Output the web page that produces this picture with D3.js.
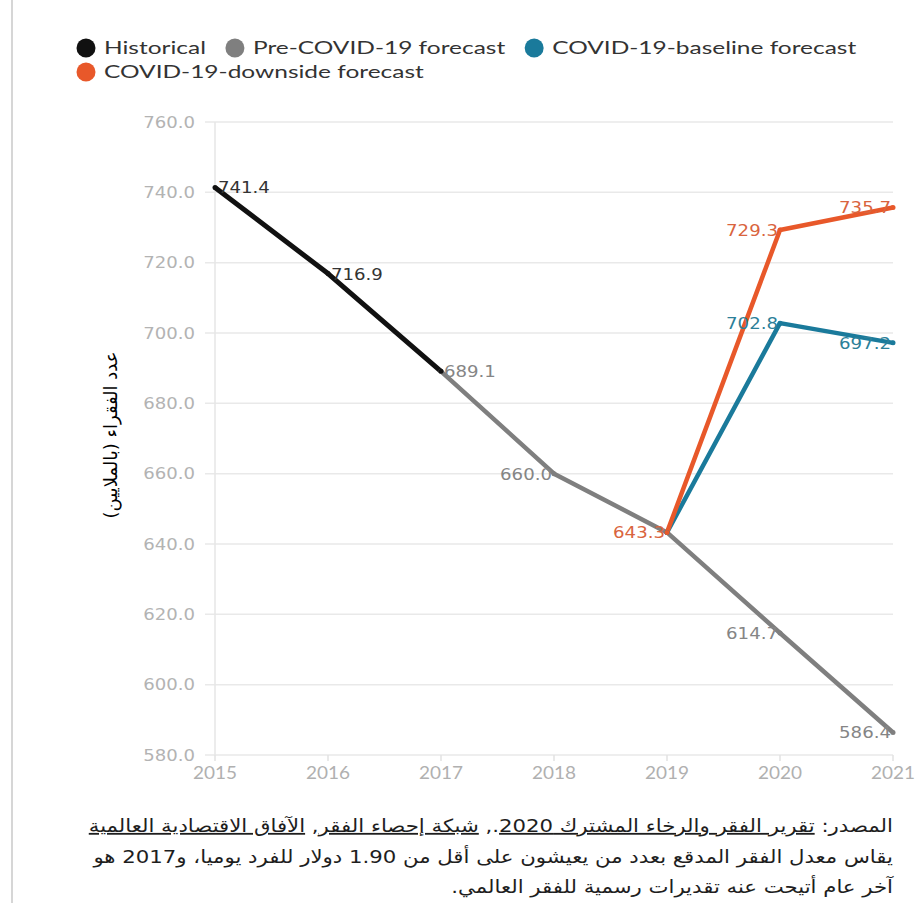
<!DOCTYPE html>
<html>
<head>
<meta charset="utf-8">
<script src="https://cdn.jsdelivr.net/npm/d3@7"></script>
<style>
    body { margin: 0; background: #fff; }
    svg { display: block; }
</style>
</head>
<body>
<div id="chart"></div>
<script>
// data (millions of people in extreme poverty)
const years = [2015, 2016, 2017, 2018, 2019, 2020, 2021];
const yTicks = [580, 600, 620, 640, 660, 680, 700, 720, 740, 760];
const seriesNames = ['Historical', 'Pre-COVID-19 forecast', 'COVID-19-baseline forecast', 'COVID-19-downside forecast'];
const historicalYears = [2015, 2016, 2017];
const historical = [741.4, 716.9, 689.1];
const preCovidYears = [2017, 2018, 2019, 2020, 2021];
const preCovid = [689.1, 660.0, 643.3, 614.7, 586.4];
const baselineYears = [2019, 2020, 2021];
const baseline = [643.3, 702.8, 697.2];
const downsideYears = [2019, 2020, 2021];
const downside = [643.3, 729.3, 735.7];
const yTitle = 'عدد الفقراء (بالملايين)';

class PovertyChart {
    constructor(width, height, selector) {
        this._width = width;
        this._height = height;
        this._selector = selector;
        this._margin = { top: 122, right: 25, bottom: 148, left: 215 };
        this._colors = ['#111111', '#7f7f7f', '#1a7a9b', '#e8582a'];
        this._labelColors = ['#333333', '#858585', '#2c7f99', '#d9643e'];
    }

    // text stretched horizontally, the reference screenshot is wide
    stretchText(g, x, y, sx) {
        return g.append('g')
            .attr('transform', `translate(${x},${y}) scale(${sx},1)`)
            .append('text');
    }

    render() {
        var that = this;
        this._svg = d3.select(that._selector)
            .append('svg')
            .attr('width', that._width)
            .attr('height', that._height);

        // left border of the page
        this._svg.append('line')
            .attr('x1', 12).attr('x2', 12)
            .attr('y1', 0).attr('y2', that._height)
            .attr('stroke', '#c8c8c8').attr('stroke-width', 1.5);

        this._x = d3.scaleLinear()
            .domain(d3.extent(years))
            .range([that._margin.left, that._width - that._margin.right]);
        this._y = d3.scaleLinear()
            .domain([580, 760])
            .range([that._height - that._margin.bottom, that._margin.top]);

        this.drawAxes();
        this.drawLines();
        this.drawLegend();
        this.drawFooter();
    }

    drawAxes() {
        var that = this;
        var x0 = this._x.range()[0], x1 = this._x.range()[1];
        var grid = this._svg.append('g');
        grid.selectAll('line').data(yTicks)
            .join('line')
            .attr('x1', x0 - 10).attr('x2', x1)
            .attr('y1', d => that._y(d)).attr('y2', d => that._y(d))
            .attr('stroke', '#e9e9e9').attr('stroke-width', 1.5);
        grid.append('line')
            .attr('x1', x0).attr('x2', x0)
            .attr('y1', that._y(760)).attr('y2', that._y(580))
            .attr('stroke', '#e6e6e6').attr('stroke-width', 1.5);
        grid.selectAll('.xtick').data(years)
            .join('line').attr('class', 'xtick')
            .attr('x1', d => that._x(d)).attr('x2', d => that._x(d))
            .attr('y1', that._y(580)).attr('y2', that._y(580) + 6)
            .attr('stroke', '#e2e2e2').attr('stroke-width', 1.5);

        var fmt = d3.format('.1f');
        yTicks.forEach(function (t) {
            that.stretchText(grid, x0 - 20, that._y(t), 1.13)
                .attr('text-anchor', 'end')
                .attr('dy', '0.36em')
                .attr('font-family', 'DejaVu Sans')
                .attr('font-size', 16)
                .attr('fill', '#b3b3b3')
                .text(fmt(t));
        });
        years.forEach(function (yr) {
            that.stretchText(grid, that._x(yr), that._y(580) + 24, 1.15)
                .attr('text-anchor', 'middle')
                .attr('font-family', 'Lato')
                .attr('font-size', 16.5)
                .attr('fill', '#b0b0b0')
                .text(yr);
        });

        this._svg.append('text')
            .attr('transform', `translate(111,435) rotate(-90)`)
            .attr('text-anchor', 'middle')
            .attr('dy', '0.35em')
            .attr('font-family', 'DejaVu Sans')
            .attr('font-size', 18)
            .attr('fill', '#000')
            .text(yTitle);
    }

    drawLines() {
        var that = this;
        var series = [
            { name: seriesNames[1], years: preCovidYears, values: preCovid, c: 1 },
            { name: seriesNames[0], years: historicalYears, values: historical, c: 0 },
            { name: seriesNames[2], years: baselineYears, values: baseline, c: 2 },
            { name: seriesNames[3], years: downsideYears, values: downside, c: 3 }
        ];
        series.forEach(s => { s.points = s.values.map((v, i) => [s.years[i], v]); });

        var line = d3.line()
            .x(d => that._x(d[0]))
            .y(d => that._y(d[1]));

        this._svg.append('g').selectAll('path').data(series)
            .join('path')
            .attr('fill', 'none')
            .attr('stroke', d => that._colors[d.c])
            .attr('stroke-width', d => d.c == 0 ? 5 : 4.5)
            .attr('stroke-linejoin', 'round')
            .attr('d', d => line(d.points));

        this._svg.append('g').selectAll('g').data(series)
            .join('g')
            .style('fill', d => that._colors[d.c])
            .selectAll('circle').data(d => d.points)
            .join('circle')
            .attr('cx', d => that._x(d[0]))
            .attr('cy', d => that._y(d[1]))
            .attr('r', 2.5);

        // value labels: one per point, the first three years read to the right
        var labels = this._svg.append('g');
        var done = {};
        [series[1], series[0], series[2], series[3]].forEach(function (s) {
            s.points.forEach(function (p) {
                var key = p[0] + ':' + p[1];
                var c = s.c;
                if (p[0] == 2017) c = 1;
                if (p[0] == 2019) c = 3;
                if (done[key]) return;
                done[key] = true;
                var right = p[0] <= 2017;
                that.stretchText(labels, that._x(p[0]) + (right ? 3 : -2), that._y(p[1]), 1.1)
                    .attr('text-anchor', right ? 'start' : 'end')
                    .attr('dy', '0.36em')
                    .attr('font-family', 'DejaVu Sans')
                    .attr('font-size', 16.5)
                    .attr('fill', that._labelColors[c])
                    .text(d3.format('.1f')(p[1]));
            });
        });
    }

    drawLegend() {
        var that = this;
        var g = this._svg.append('g');
        var x = 77, y = 48, maxX = 880, sx = 1.36;
        seriesNames.forEach(function (name, i) {
            var item = g.append('g');
            var t = that.stretchText(item, 0, 0, sx)
                .attr('x', 0)
                .attr('dy', '0.35em')
                .attr('font-family', 'Lato')
                .attr('font-size', 18)
                .attr('fill', '#333')
                .text(name);
            var w = 27 + t.node().getComputedTextLength() * sx;
            if (x + w > maxX) { x = 77; y += 24; }
            item.attr('transform', `translate(${x},${y})`);
            item.append('circle')
                .attr('cx', 9).attr('cy', 0).attr('r', 9.5)
                .attr('fill', that._colors[i]);
            t.node().parentNode.setAttribute('transform', `translate(27,0) scale(${sx},1)`);
            x += w + 20;
        });
    }

    drawFooter() {
        var that = this;
        var g = this._svg.append('g')
            .attr('font-family', 'DejaVu Sans')
            .attr('font-size', 18)
            .attr('fill', '#1e1e1e');
        var rightX = this._x.range()[1];
        var sx = 1.18;

        var l1 = this.stretchText(g, rightX, 832, sx)
            .attr('direction', 'rtl').attr('text-anchor', 'start');
        l1.append('tspan').text('المصدر: ');
        l1.append('tspan').attr('text-decoration', 'underline').text('تقرير الفقر والرخاء المشترك 2020');
        l1.append('tspan').text('., ');
        l1.append('tspan').attr('text-decoration', 'underline').text('شبكة إحصاء الفقر');
        l1.append('tspan').text(', ');
        l1.append('tspan').attr('text-decoration', 'underline').text('الآفاق الاقتصادية العالمية');

        this.stretchText(g, rightX, 863, sx)
            .attr('direction', 'rtl').attr('text-anchor', 'start')
            .text('يقاس معدل الفقر المدقع بعدد من يعيشون على أقل من 1.90 دولار للفرد يوميا، و2017 هو');
        this.stretchText(g, rightX, 893, sx)
            .attr('direction', 'rtl').attr('text-anchor', 'start')
            .text('آخر عام أتيحت عنه تقديرات رسمية للفقر العالمي.');
    }
}

var chart = new PovertyChart(918, 903, '#chart');
chart.render();
</script>
</body>
</html>
